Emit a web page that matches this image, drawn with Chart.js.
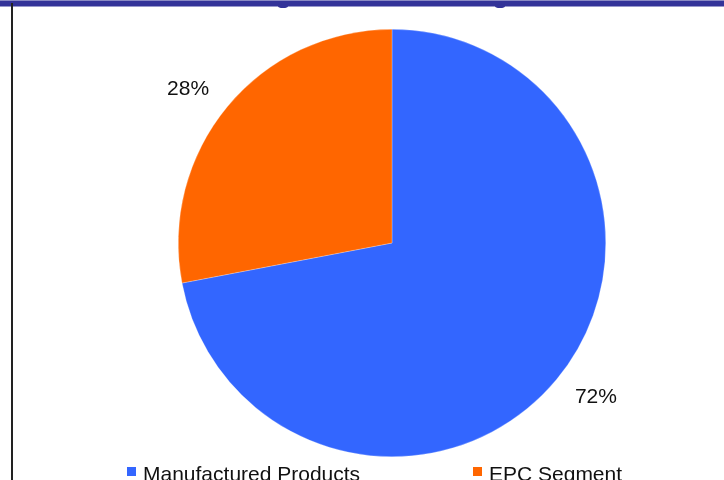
<!DOCTYPE html>
<html>
<head>
<meta charset="utf-8">
<script src="https://cdn.jsdelivr.net/npm/chart.js@4/dist/chart.umd.min.js"></script>
<style>
html,body{margin:0;padding:0;background:#fff;}
#wrap{position:relative;width:724px;height:480px;}
</style>
</head>
<body>
<div id="wrap"><canvas id="c" width="724" height="480"></canvas></div>
<script>
const categories = ["Manufactured Products", "EPC Segment"];
const shares = [72, 28];
const sliceColors = ["#3366FF", "#FF6600"];
const valueLabels = ["72%", "28%"];

const FONT = "'Liberation Sans', Arial, Helvetica, sans-serif";

const framePlugin = {
  id: 'frame',
  beforeDraw(chart) {
    const ctx = chart.ctx;
    ctx.save();
    ctx.fillStyle = '#ffffff';
    ctx.fillRect(0, 0, chart.width, chart.height);
    ctx.fillStyle = '#8a8ac4';
    ctx.fillRect(0, 0, chart.width, 1);
    ctx.fillStyle = '#333399';
    ctx.fillRect(0, 1, chart.width, 5.5);
    ctx.beginPath();
    ctx.ellipse(283, 6, 5, 2, 0, 0, Math.PI * 2);
    ctx.ellipse(500, 6, 5, 2, 0, 0, Math.PI * 2);
    ctx.fill();
    ctx.fillStyle = '#222222';
    ctx.fillRect(11, 3, 2, chart.height - 3);
    ctx.restore();
  }
};

const labelPlugin = {
  id: 'sliceLabels',
  afterDatasetsDraw(chart) {
    const ctx = chart.ctx;
    const meta = chart.getDatasetMeta(0);
    ctx.save();
    ctx.font = '21px ' + FONT;
    ctx.fillStyle = '#111111';
    ctx.textAlign = 'center';
    ctx.textBaseline = 'middle';
    meta.data.forEach((arc, i) => {
      const p = arc.getProps(['x', 'y', 'startAngle', 'endAngle', 'outerRadius'], true);
      const mid = (p.startAngle + p.endAngle) / 2 - 0.045;
      const r = p.outerRadius * 1.195;
      ctx.fillText(valueLabels[i], p.x + Math.cos(mid) * r, p.y + Math.sin(mid) * r);
    });
    ctx.restore();
  }
};

const legendPlugin = {
  id: 'bottomLegend',
  afterDraw(chart) {
    const ctx = chart.ctx;
    const xs = [127, 473];
    ctx.save();
    ctx.font = '21px ' + FONT;
    ctx.textBaseline = 'alphabetic';
    ctx.textAlign = 'left';
    categories.forEach((name, i) => {
      ctx.fillStyle = sliceColors[i];
      ctx.fillRect(xs[i], 467, 9, 9);
      ctx.fillStyle = '#111111';
      ctx.fillText(name, xs[i] + 16, 481);
    });
    ctx.restore();
  }
};

new Chart(document.getElementById('c'), {
  type: 'pie',
  data: {
    labels: categories,
    datasets: [{
      data: shares,
      backgroundColor: sliceColors,
      borderColor: 'rgba(255,255,255,0.5)',
      borderWidth: 0.5
    }]
  },
  options: {
    responsive: false,
    animation: false,
    devicePixelRatio: 1,
    layout: { padding: { left: 178, right: 118, top: 29, bottom: 23 } },
    plugins: {
      legend: { display: false },
      tooltip: { enabled: false }
    }
  },
  plugins: [framePlugin, labelPlugin, legendPlugin]
});
</script>
</body>
</html>
